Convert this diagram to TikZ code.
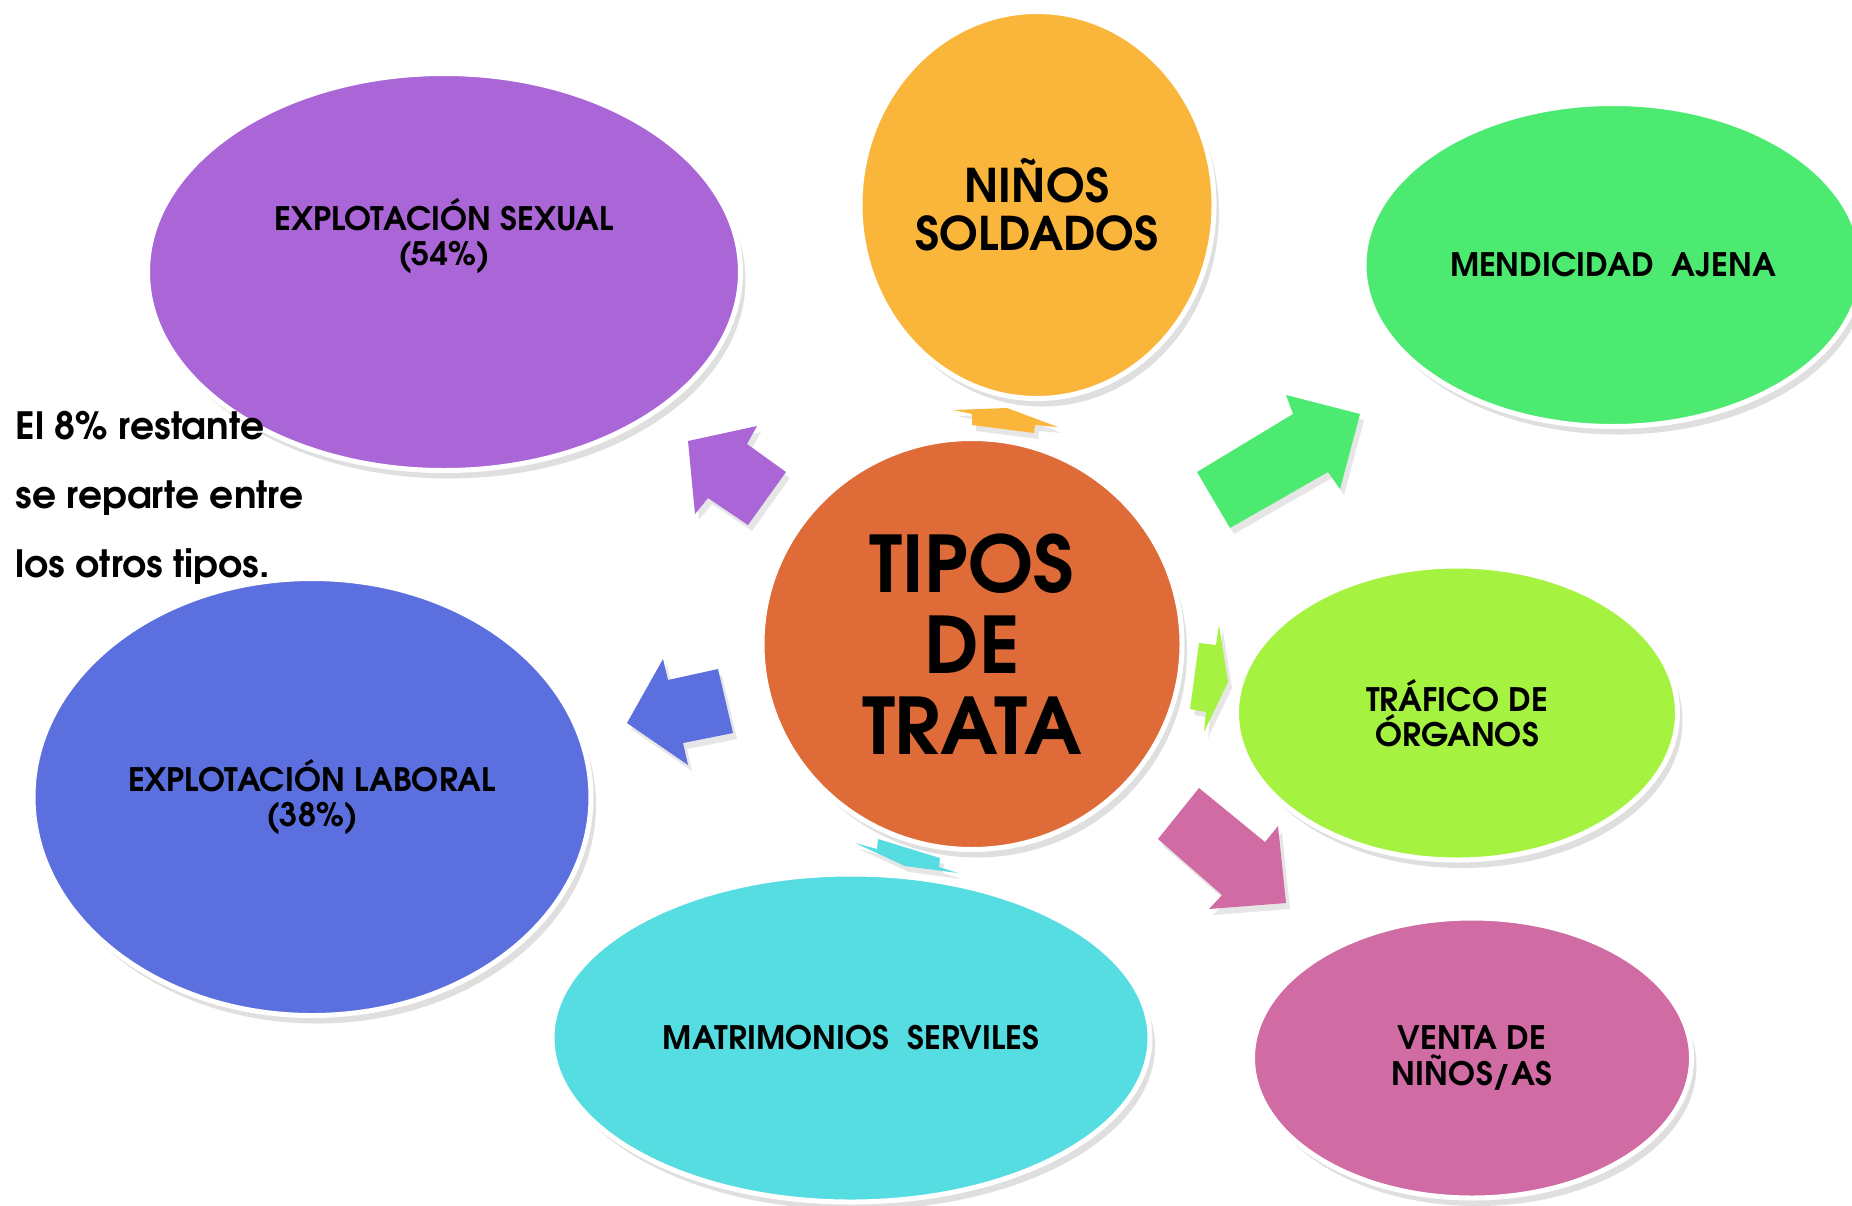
\documentclass[tikz,border=0pt]{standalone}
\usepackage{fontspec}
\setmainfont{TeX Gyre Adventor}
\usetikzlibrary{shapes.geometric,shadows}

\definecolor{morado}{RGB}{170,102,214}
\definecolor{amarillo}{RGB}{249,182,59}
\definecolor{verde}{RGB}{76,234,112}
\definecolor{naranja}{RGB}{222,107,56}
\definecolor{lima}{RGB}{165,242,65}
\definecolor{rosa}{RGB}{208,107,163}
\definecolor{cian}{RGB}{85,221,226}
\definecolor{azul}{RGB}{91,112,222}

\begin{document}
\begin{tikzpicture}[x=0.1mm,y=-0.1mm]
\tikzstyle{burbuja}=[ellipse,draw=white,line width=0.5mm,inner sep=0pt,align=center,
  font=\bfseries\fontsize{9.2}{10}\selectfont,
  drop shadow={shadow xshift=0.5mm,shadow yshift=-0.8mm,opacity=0.25}]
\tikzstyle{flecha}=[drop shadow={shadow xshift=0.4mm,shadow yshift=-0.6mm,opacity=0.2}]
\useasboundingbox (0,0) rectangle (1852,1205);
  % globos
  \node[burbuja,fill=morado,minimum width=59.3mm,minimum height=39.7mm](sexual) at (444,272){};
  \node[burbuja,fill=amarillo,minimum width=35.4mm,minimum height=38.7mm,
    font=\bfseries\fontsize{13.2}{13.7}\selectfont](soldados) at (1037,205){NIÑOS\\SOLDADOS};
  \node[burbuja,fill=verde,minimum width=49.8mm,minimum height=32.3mm](mendicidad) at (1613,265){MENDICIDAD~ AJENA};
  \node[burbuja,fill=naranja,minimum width=42mm,minimum height=41.1mm,
    font=\bfseries\fontsize{22.2}{23}\selectfont](tipos) at (972,644){TIPOS\\DE\\TRATA};
  \node[burbuja,fill=lima,minimum width=44.1mm,minimum height=29.4mm](organos) at (1457,713){TRÁFICO DE\\ÓRGANOS};
  \node[burbuja,fill=rosa,minimum width=43.9mm,minimum height=28mm](venta) at (1472,1058){VENTA DE\\NIÑOS/AS};
  \node[burbuja,fill=cian,minimum width=59.8mm,minimum height=32.8mm](matrimonios) at (851,1038){MATRIMONIOS~ SERVILES};
  \node[burbuja,fill=azul,minimum width=55.8mm,minimum height=43.7mm](laboral) at (312,797){EXPLOTACIÓN LABORAL\\(38\%)};
  \node[align=center,font=\bfseries\fontsize{9.2}{10}\selectfont](sexual-txt) at ([yshift=3.6mm]sexual.center){EXPLOTACIÓN SEXUAL\\(54\%)};
  % flechas
  \fill[flecha,morado] (688,441) -- (757,426) -- (747,444) -- (786,472) -- (748,525) -- (708,498) -- (695,514) -- cycle;
  \fill[flecha,amarillo] (953,410) -- (1007,408) -- (1058,427) -- (1035,425) -- (1034,433) -- (972,425) -- (972,414) -- cycle;
  \fill[flecha,verde] (1360,414) -- (1340,489) -- (1328,472) -- (1230,528) -- (1197,472) -- (1293,414) -- (1286,395) -- cycle;
  \fill[flecha,lima] (1199,643) -- (1216,645) -- (1219,625) -- (1228,682) -- (1204,732) -- (1206,712) -- (1190,709) -- cycle;
  \fill[flecha,rosa] (1199,788) -- (1265,842) -- (1278,826) -- (1286,903) -- (1209,909) -- (1222,895) -- (1158,839) -- cycle;
  \fill[flecha,cian] (878,839) -- (940,858) -- (939,867) -- (958,873) -- (905,866) -- (855,843) -- (877,849) -- cycle;
  \fill[flecha,azul] (627,723) -- (663,659) -- (668,680) -- (718,669) -- (733,733) -- (683,743) -- (688,765) -- cycle;
  % nota
  \node[anchor=north west,inner sep=0pt,align=left,font=\bfseries\fontsize{10.7}{19.5}\selectfont](resto) at (15,411){El 8\% restante\\se reparte entre\\los otros tipos.};
\end{tikzpicture}
\end{document}
